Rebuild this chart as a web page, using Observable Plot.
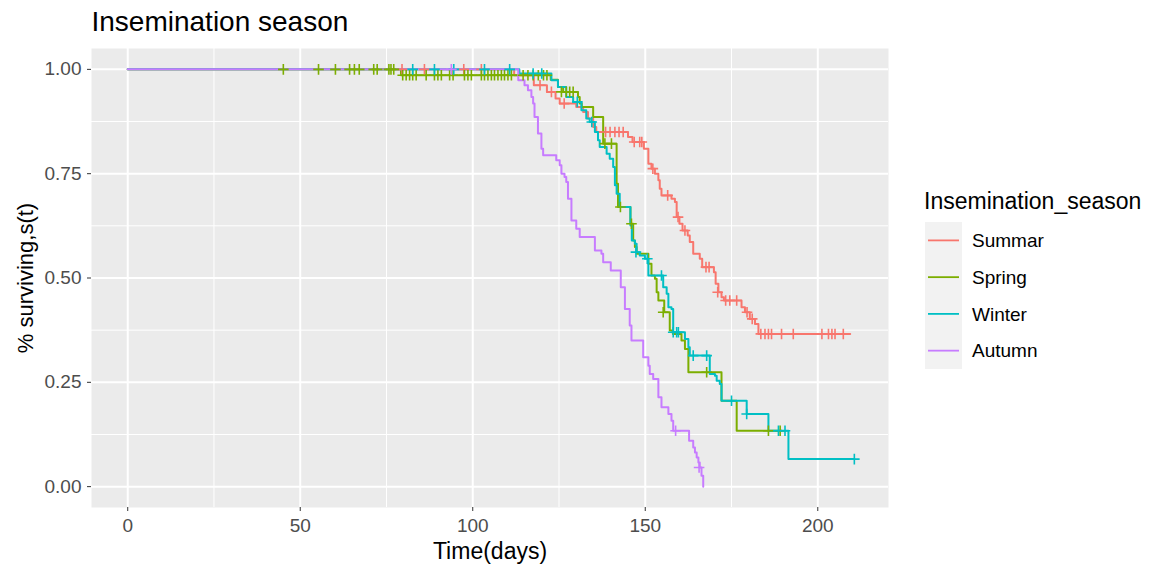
<!DOCTYPE html>
<html><head><meta charset="utf-8">
<script src="https://cdn.jsdelivr.net/npm/d3@7"></script>
<script src="https://cdn.jsdelivr.net/npm/@observablehq/plot@0.6"></script>
<style>
body{margin:0;background:#fff;}
#chart{width:1163px;height:569px;}
svg text{font-family:"Liberation Sans",Arial,sans-serif;}
</style></head><body><div id="chart"></div>
<script>
const seasons = ["Summar", "Spring", "Winter", "Autumn"];
const seasonColors = ["#F8766D", "#7CAE00", "#00BFC4", "#C77CFF"];
const chartTitle = "Insemination season";
const xTitle = "Time(days)";
const yTitle = "% surviving,s(t)";
const legendTitle = "Insemination_season";
const xTicks = [0, 50, 100, 150, 200];
const yTicks = [0, 0.25, 0.5, 0.75, 1];
const xMinor = [25, 75, 125, 175];
const yMinor = [0.125, 0.375, 0.625, 0.875];

// step curves: [time, survival after the step]
const summarSteps = [[0,1],[112,0.986],[117.7,0.962],[121.5,0.946],[124,0.930],[125.2,0.918],[130,0.910],[132,0.898],[133.4,0.882],[134.9,0.862],[135.8,0.850],[145,0.838],[146.3,0.826],[149.6,0.810],[150.9,0.774],[151.8,0.762],[152.8,0.750],[153.8,0.734],[154.2,0.714],[154.7,0.698],[157.6,0.690],[158.6,0.682],[159.1,0.646],[159.9,0.630],[160.8,0.614],[162.3,0.602],[162.9,0.586],[163.9,0.558],[165.8,0.546],[166.5,0.526],[169.9,0.514],[170.4,0.486],[171.2,0.466],[172.1,0.454],[172.8,0.446],[177.9,0.430],[178.9,0.418],[180.3,0.402],[181.8,0.390],[182.8,0.366]];
const summarEnd = 209.4;
const springSteps = [[0,1],[79.2,0.986],[122.6,0.975],[124.7,0.958],[126.2,0.946],[130.5,0.934],[131,0.918],[131.6,0.910],[134.9,0.886],[137.8,0.822],[141.7,0.726],[142.1,0.670],[145.7,0.630],[146.5,0.590],[147,0.574],[147.5,0.558],[150.9,0.534],[151.8,0.506],[152.8,0.498],[153.3,0.466],[153.8,0.446],[155.5,0.418],[157.1,0.374],[158,0.366],[160.5,0.350],[161.5,0.330],[162.5,0.274],[172.1,0.206],[176.5,0.134]];
const springEnd = 189.5;
const winterSteps = [[0,1],[113.5,0.990],[122.8,0.974],[124.7,0.958],[127.1,0.934],[129.1,0.922],[131.5,0.902],[132.9,0.882],[133.9,0.874],[135.4,0.850],[136.3,0.830],[136.8,0.814],[138.8,0.798],[139.7,0.786],[140.7,0.766],[141.2,0.722],[141.7,0.702],[142.6,0.670],[145.7,0.626],[146.1,0.590],[147,0.582],[147.5,0.562],[148.4,0.554],[149.9,0.546],[150.9,0.506],[155.2,0.478],[156.2,0.462],[156.7,0.430],[157.6,0.426],[158.1,0.370],[161.5,0.354],[162.5,0.334],[162.9,0.314],[168.7,0.270],[170.2,0.266],[170.7,0.254],[171.6,0.246],[172.1,0.206],[179.4,0.174],[185.7,0.134],[191.5,0.066]];
const winterEnd = 210.6;
const autumnSteps = [[0,1],[113.2,0.974],[115,0.962],[116,0.950],[117,0.934],[117.5,0.918],[117.9,0.886],[118.9,0.846],[119.9,0.810],[120.4,0.794],[124.2,0.782],[125.2,0.770],[125.7,0.750],[126.6,0.742],[127.1,0.730],[127.6,0.690],[128.6,0.638],[130,0.618],[131,0.598],[135.4,0.566],[137.3,0.558],[137.8,0.538],[140,0.518],[142.9,0.478],[144.1,0.426],[145.5,0.386],[146,0.350],[149.4,0.310],[150.9,0.290],[151.3,0.270],[152.3,0.258],[153.8,0.214],[154.7,0.190],[156.7,0.174],[157.6,0.158],[158.1,0.134],[162.7,0.110],[163.9,0.094],[164.4,0.082],[164.9,0.070],[165.4,0.058],[165.8,0.046],[166.3,0.026],[166.8,0]];
const autumnEnd = null;

// censored observations: [time, survival]
const summarCensor = [[79.5,1],[86,1],[97.4,1],[102.5,1],[119.5,0.962],[122.8,0.946],[126.5,0.918],[138.5,0.85],[139.8,0.85],[141.2,0.85],[142.4,0.85],[143.6,0.85],[146.8,0.826],[148.4,0.826],[149,0.826],[152.2,0.762],[156.5,0.698],[159.5,0.646],[161.5,0.614],[167.6,0.526],[168.5,0.526],[171,0.466],[173.3,0.446],[174.5,0.446],[176.5,0.446],[179.5,0.418],[181,0.402],[183.5,0.366],[184.7,0.366],[185.7,0.366],[186.6,0.366],[189.5,0.366],[192.9,0.366],[201.2,0.366],[203.1,0.366],[204.1,0.366],[205,0.366],[207.4,0.366]];
const springCensor = [[45.1,1],[55.3,1],[60.2,1],[64.3,1],[65.7,1],[67.1,1],[71.3,1],[72.3,1],[75.7,1],[76.3,1],[77.1,1],[79.7,0.986],[80.7,0.986],[81.7,0.986],[82.6,0.986],[83.6,0.986],[86.5,0.986],[88.9,0.986],[89.9,0.986],[90.9,0.986],[93.3,0.986],[94.3,0.986],[97.6,0.986],[98.6,0.986],[99.6,0.986],[102.5,0.986],[103.4,0.986],[104.4,0.986],[105.4,0.986],[106.3,0.986],[107.3,0.986],[108.3,0.986],[109.2,0.986],[110.2,0.986],[111.2,0.986],[114.6,0.986],[116,0.986],[117.5,0.986],[119,0.986],[120.5,0.986],[121.5,0.986],[125.7,0.946],[127.1,0.946],[128.1,0.946],[129.1,0.946],[138.3,0.822],[140.2,0.822],[142.8,0.670],[146,0.630],[155.2,0.418],[167.8,0.274],[185.7,0.134],[189.1,0.134]];
const winterCensor = [[82.6,1],[88.9,1],[94.5,1],[103.4,1],[110.7,1],[117.5,0.990],[120,0.990],[130.3,0.922],[134.5,0.874],[147.3,0.562],[150.6,0.546],[154.7,0.506],[158.1,0.370],[159.1,0.370],[159.6,0.370],[163.9,0.314],[167.8,0.314],[175,0.206],[179.4,0.174],[188.6,0.134],[190.5,0.134],[210.6,0.066]];
const autumnCensor = [[93.8,1],[158.8,0.134],[165.6,0.046]];

const stepSets = [summarSteps, springSteps, winterSteps, autumnSteps];
const ends = [summarEnd, springEnd, winterEnd, autumnEnd];
const censorSets = [summarCensor, springCensor, winterCensor, autumnCensor];

const curveRows = [];
seasons.forEach((season, i) => {
  const steps = stepSets[i];
  steps.forEach(([t, s]) => curveRows.push({season, time: t, surv: s}));
  if (ends[i] != null) curveRows.push({season, time: ends[i], surv: steps[steps.length - 1][1]});
});
const censorRows = [];
seasons.forEach((season, i) => censorSets[i].forEach(([t, s]) => censorRows.push({season, time: t, surv: s})));

const font = "Liberation Sans, Arial, sans-serif";
const svg = Plot.plot({
  width: 1163, height: 569,
  marginLeft: 91, marginRight: 275, marginTop: 48, marginBottom: 62,
  style: {fontFamily: font, background: "white", overflow: "visible"},
  x: {domain: [-10.5, 220.5]},
  y: {domain: [-0.05, 1.05]},
  color: {domain: seasons, range: seasonColors},
  marks: [
    Plot.frame({fill: "#EBEBEB", stroke: null}),
    Plot.ruleX(xMinor, {stroke: "white", strokeWidth: 1}),
    Plot.ruleY(yMinor, {stroke: "white", strokeWidth: 1}),
    Plot.ruleX(xTicks, {stroke: "white", strokeWidth: 2}),
    Plot.ruleY(yTicks, {stroke: "white", strokeWidth: 2}),
    Plot.axisX({ticks: xTicks, tickSize: 4, tickPadding: 7, fontSize: 19, fill: "#4D4D4D", stroke: "#333333", label: null}),
    Plot.axisY({ticks: yTicks, tickFormat: d3.format(".2f"), tickSize: 4, tickPadding: 6, fontSize: 19, fill: "#4D4D4D", stroke: "#333333", label: null}),
    Plot.line(curveRows, {x: "time", y: "surv", z: "season", stroke: "season", curve: "step-after", strokeWidth: 2}),
    Plot.dot(censorRows, {x: "time", y: "surv", stroke: "season", fill: "none", symbol: "plus", r: 3.5, strokeWidth: 1.6}),
    Plot.text([chartTitle], {frameAnchor: "top-left", dy: -37, textAnchor: "start", fontSize: 28, fill: "black", text: d => d}),
    Plot.text([xTitle], {frameAnchor: "bottom", dy: 51, textAnchor: "middle", fontSize: 23, fill: "black", text: d => d}),
    Plot.text([yTitle], {frameAnchor: "left", dx: -66, rotate: -90, textAnchor: "middle", lineAnchor: "middle", fontSize: 22, fill: "black", text: d => d})
  ]
});

// legend (ggplot-style) on the right
const lg = d3.select(svg).append("g").attr("font-family", font).attr("text-anchor", "start");
lg.append("text").attr("x", 924).attr("y", 209).attr("font-size", 23).attr("fill", "black").text(legendTitle);
lg.append("rect").attr("x", 925).attr("y", 222).attr("width", 37).attr("height", 147).attr("fill", "#F2F2F2");
seasons.forEach((s, i) => {
  const cy = 240.4 + i * 36.75;
  lg.append("line").attr("x1", 928).attr("x2", 959).attr("y1", cy).attr("y2", cy)
    .attr("stroke", seasonColors[i]).attr("stroke-width", 1.8);
  lg.append("text").attr("x", 972).attr("y", cy).attr("dy", "0.35em").attr("font-size", 19)
    .attr("fill", "black").text(s);
});
document.getElementById("chart").appendChild(svg);
</script></body></html>
